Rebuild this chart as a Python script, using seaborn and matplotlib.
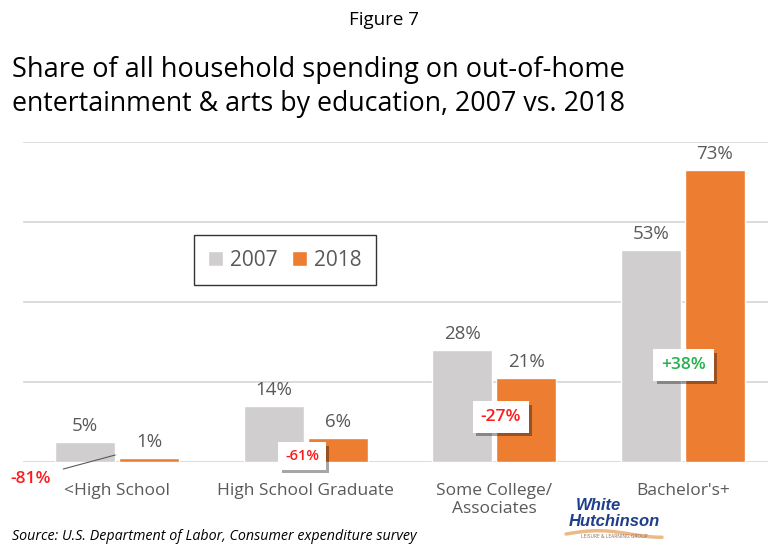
import matplotlib
matplotlib.use("Agg")
import matplotlib.pyplot as plt
import matplotlib.patheffects as pe
import numpy as np
import pandas as pd
import seaborn as sns

# Data
categories = ["<High School", "High School Graduate", "Some College/\nAssociates", "Bachelor's+"]
share_2007 = [5, 14, 28, 53]
share_2018 = [1, 6, 21, 73]
changes = ["-81%", "-61%", "-27%", "+38%"]
years = ["2007", "2018"]

df = pd.DataFrame({
    "category": categories * 2,
    "year": [years[0]] * 4 + [years[1]] * 4,
    "share": share_2007 + share_2018,
})

sns.set_theme(style="white")
plt.rcParams["font.family"] = ["Open Sans", "DejaVu Sans"]

W, H = 768, 546
fig = plt.figure(figsize=(W / 100, H / 100), dpi=100)

def fx(px):
    return px / W

def fy(py):
    return 1 - py / H

ax_left, ax_right, ax_top, ax_bottom = 23, 777, 142, 462
ax = fig.add_axes([fx(ax_left), fy(ax_bottom), (ax_right - ax_left) / W, (ax_bottom - ax_top) / H])

palette = {"2007": "#D0CECE", "2018": "#ED7D31"}
sns.barplot(data=df, x="category", y="share", hue="year", palette=palette,
            width=0.68, gap=0.06, ax=ax, saturation=1, legend=True)

ax.set_ylim(0, 80)
ax.set_xlim(-0.5, 3.5)
ax.set_yticks([0, 20, 40, 60, 80])
ax.yaxis.grid(True, color="#D9D9D9", linewidth=1.3)
ax.set_axisbelow(True)
ax.tick_params(axis="y", left=False, labelleft=False)
ax.tick_params(axis="x", bottom=False, labelsize=12.5, labelcolor="#595959", pad=9)
for s in ax.spines.values():
    s.set_visible(False)
ax.set_xlabel("")
ax.set_ylabel("")

for cont in ax.containers:
    ax.bar_label(cont, labels=[f"{v:.0f}%" for v in cont.datavalues],
                 padding=5, fontsize=13.5, color="#595959")

leg = ax.legend(loc="center", bbox_to_anchor=(fx(285), fy(260)),
                bbox_transform=fig.transFigure, ncol=2, frameon=True,
                fontsize=15, handlelength=0.7, handleheight=0.7,
                handletextpad=0.35, columnspacing=0.7, borderpad=0.7,
                fancybox=False)
leg.get_frame().set_edgecolor("black")
leg.get_frame().set_linewidth(1.0)
for t in leg.get_texts():
    t.set_color("#595959")

# Change annotations
def px_to_data(px, py):
    return (px - 117) / 188.7, (462 - py) / 4.0

def boxed(px, py, text, color, size):
    x, y = px_to_data(px, py)
    t = ax.text(x, y, text, ha="center", va="center", fontsize=size, color=color,
                fontweight="semibold", zorder=5,
                bbox=dict(boxstyle="square,pad=0.45", fc="white", ec="none"))
    t.get_bbox_patch().set_path_effects([
        pe.SimplePatchShadow(offset=(2.5, -2.5), shadow_rgbFace="black", alpha=0.35),
        pe.Normal()])
    return t

boxed(302, 456, changes[1], "#FF1A1A", 10.5)
boxed(501, 417, changes[2], "#FF1A1A", 12.5)
boxed(684, 365, changes[3], "#22B14C", 12.5)

x0, y0 = px_to_data(30, 479)
ax.text(x0, y0, changes[0], ha="center", va="center", fontsize=12.5,
        color="#FF1A1A", fontweight="semibold", clip_on=False)
xa, ya = px_to_data(63, 469)
xb, yb = px_to_data(115, 455)
ax.plot([xa, xb], [ya, yb], color="#595959", lw=0.8, clip_on=False)

# Titles
fig.text(fx(384), fy(20), "Figure 7", ha="center", va="center", fontsize=13.5, color="black")
fig.text(fx(12), fy(70), "Share of all household spending on out-of-home",
         ha="left", va="center", fontsize=19.5, color="black")
fig.text(fx(12), fy(104), "entertainment & arts by education, 2007 vs. 2018",
         ha="left", va="center", fontsize=19.3, color="black")

fig.text(fx(12), fy(537), "Source: U.S. Department of Labor, Consumer expenditure survey",
         ha="left", va="center", fontsize=10.3, style="italic", color="black")

# Logo mark
fig.text(fx(576), fy(506), "White", ha="left", va="center", fontsize=12,
         family="Liberation Sans", style="italic", fontweight="bold", color="#1F3E8C")
fig.text(fx(569), fy(521), "Hutchinson", ha="left", va="center", fontsize=12,
         family="Liberation Sans", style="italic", fontweight="bold", color="#1F3E8C")
sx = np.linspace(fx(566), fx(662), 50)
sy = fy(534) + 0.006 * np.sin(np.linspace(0, np.pi * 1.5, 50))
fig.add_artist(matplotlib.lines.Line2D(sx, sy, color="#E8A86B", lw=2.5, alpha=0.8))
fig.text(fx(614), fy(537), "LEISURE & LEARNING GROUP", ha="center", va="center",
         fontsize=3.5, color="#8A6A50")

fig.savefig("out.png", dpi=100)
